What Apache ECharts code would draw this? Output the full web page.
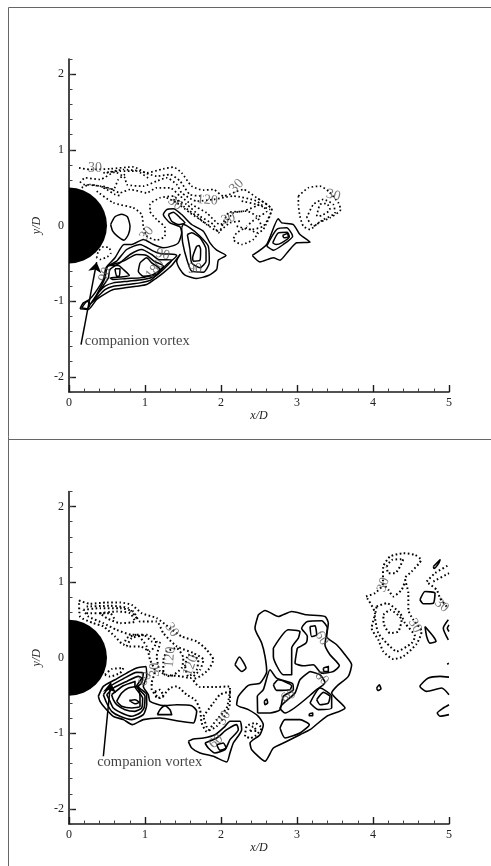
<!DOCTYPE html>
<html><head><meta charset="utf-8">
<style>html,body{margin:0;padding:0;background:#fff}#c{width:491px;height:866px}</style>
<script src="https://cdn.jsdelivr.net/npm/echarts@6/dist/echarts.min.js"></script>
</head><body><div id="c"></div>
<script>
const xTicks=[0,1,2,3,4,5];
const yTicks=[-2,-1,0,1,2];
const cylinderRadius=0.5;
// upper panel: solid contours (closed)
const topSolid=[
[[.548,.013],[.605,.115],[.693,.15],[.768,.115],[.803,-.009],[.781,-.119],[.724,-.194],[.636,-.141],[.575,-.075]],
[[.145,-1.101],[.189,-1.022],[.268,-.978],[.342,-.89],[.452,-.714],[.487,-.559],[.605,-.427],[.724,-.251],[.825,-.251],[.978,-.185],[1.11,-.251],[1.241,-.295],[1.351,-.273],[1.439,-.229],[1.482,-.097],[1.461,-.018],[1.329,.035],[1.241,.145],[1.285,.211],[1.373,.22],[1.482,.145],[1.614,.013],[1.768,-.075],[1.855,-.229],[1.943,-.326],[2.066,-.396],[1.965,-.458],[1.943,-.581],[1.833,-.661],[1.68,-.7],[1.526,-.656],[1.461,-.581],[1.417,-.471],[1.461,-.383],[1.351,-.529],[1.241,-.626],[1.154,-.692],[1.022,-.78],[.89,-.802],[.737,-.824],[.583,-.846],[.496,-.89],[.364,-.978],[.254,-1.11]],
[[1.307,.145],[1.373,.176],[1.461,.101],[1.526,.035],[1.439,.013],[1.351,.057]],
[[1.482,-.031],[1.496,-.229],[1.557,-.47],[1.614,-.604],[1.768,-.617],[1.846,-.493],[1.833,-.273],[1.724,-.141],[1.592,-.031],[1.504,.013]],
[[1.557,-.119],[1.592,-.317],[1.614,-.493],[1.724,-.559],[1.803,-.471],[1.803,-.317],[1.724,-.163],[1.614,-.097]],
[[1.68,-.273],[1.627,-.427],[1.636,-.471],[1.724,-.458],[1.732,-.317],[1.711,-.264]],
[[.276,-1.044],[.364,-.912],[.474,-.692],[.504,-.546],[.627,-.471],[.759,-.317],[.934,-.251],[1.11,-.339],[1.197,-.37],[1.395,-.383],[1.417,-.396],[1.285,-.515],[1.197,-.604],[1.088,-.714],[.934,-.758],[.759,-.78],[.583,-.802],[.474,-.846],[.364,-.956]],
[[.32,-1],[.43,-.824],[.518,-.692],[.539,-.581],[.671,-.493],[.803,-.383],[.956,-.317],[1.088,-.383],[1.175,-.449],[1.351,-.458],[1.241,-.581],[1.132,-.67],[.978,-.714],[.781,-.736],[.583,-.758],[.474,-.802],[.386,-.89]],
[[.518,-.529],[.715,-.471],[.89,-.383],[1.022,-.396],[1.118,-.471],[1.241,-.537],[1.11,-.648],[.934,-.692],[.759,-.7],[.583,-.714],[.539,-.692],[.715,-.678],[.794,-.661],[.715,-.581],[.649,-.529]],
[[.934,-.493],[1.022,-.427],[1.088,-.493],[1.154,-.537],[1.197,-.581],[1.154,-.648],[.978,-.67],[.912,-.604]],
[[.605,-.573],[.671,-.573],[.662,-.67],[.627,-.67]],
[[.167,-1.088],[.241,-1.0],[.276,-1.044],[.241,-1.101]],
[[2.412,-.396],[2.601,-.251],[2.754,.088],[2.798,.035],[2.952,.013],[3.039,-.119],[3.171,-.22],[2.996,-.229],[2.886,-.339],[2.776,-.458],[2.689,-.427],[2.513,-.481]],
[[2.601,-.273],[2.732,-.053],[2.864,-.031],[2.943,-.141],[2.82,-.251],[2.689,-.326]],
[[2.68,-.229],[2.754,-.097],[2.873,-.088],[2.899,-.15],[2.798,-.229],[2.724,-.251]],
[[2.811,-.132],[2.873,-.106],[2.886,-.15],[2.829,-.163]]
];
// upper panel: dotted contours, closed
const topDottedClosed=[
[[.364,-.427],[.386,-.339],[.452,-.282],[.531,-.295],[.548,-.37],[.504,-.414],[.408,-.449]],
[[3.018,.388],[3.149,.498],[3.303,.52],[3.412,.454],[3.544,.3],[3.575,.211],[3.434,.101],[3.281,.035],[3.171,-.053],[3.083,-.009],[3.039,.123],[3.018,.278]],
[[3.127,.101],[3.215,.278],[3.346,.344],[3.478,.278],[3.5,.167],[3.346,.079],[3.215,-.009]],
[[3.259,.123],[3.303,.278],[3.39,.291],[3.434,.211],[3.325,.132]]
];
// upper panel: dotted contours, open
const topDottedOpen=[
[[.132,.762],[.276,.74],[.539,.749],[.846,.775],[1.022,.696],[1.241,.749],[1.373,.771],[1.482,.696],[1.614,.52],[1.768,.467],[1.899,.476],[2.031,.388],[2.294,.476],[2.469,.366],[2.667,.211],[2.557,-.053],[2.469,-.097],[2.338,-.031],[2.206,-.097],[2.162,-.185],[2.272,-.251],[2.425,-.185],[2.491,-.097]],
[[.145,.564],[.211,.63],[.408,.608],[.605,.705],[.737,.63],[.759,.542],[.978,.52],[1.154,.586],[1.285,.63],[1.417,.542],[1.482,.432],[1.68,.322],[1.899,.344],[2.162,.388],[2.469,.322],[2.601,.189],[2.469,.101],[2.338,-.009]],
[[.167,.498],[.276,.542],[.539,.485],[.671,.432],[.803,.476],[1.022,.432],[1.154,.498],[1.329,.498],[1.461,.388],[1.614,.278],[1.811,.167],[1.987,.013],[2.075,.057],[2.162,.167],[2.338,.189],[2.469,.123],[2.535,-.009]],
[[.364,.454],[.583,.3],[.846,.233],[.956,.145],[.978,-.009],[1.022,-.141],[1.154,-.194],[1.263,-.141],[1.263,-.031],[1.154,.079],[1.066,.189],[1.066,.278],[1.197,.366],[1.373,.388],[1.504,.256],[1.68,.123],[1.811,.013],[1.965,-.075],[2.118,.035],[2.25,.057]],
[[1.285,.366],[1.417,.3],[1.592,.167],[1.724,.079],[1.855,-.009]],
[[.452,.52],[.583,.476],[.649,.608],[.737,.675]],
[[.496,.696],[.715,.74],[.934,.718],[1.154,.652],[1.329,.674],[1.461,.586],[1.592,.41],[1.768,.388]],
[[1.373,.344],[1.548,.278],[1.724,.123],[1.899,.013],[1.965,-.097],[2.096,.167],[2.294,.189],[2.513,.278]],
[[2.206,-.009],[2.382,-.053],[2.557,-.009],[2.667,.211],[2.469,.366]],
[[2.272,.322],[2.469,.278],[2.645,.211]],
[[.452,.696],[.671,.718],[.89,.718],[1.066,.608]],
[[.189,.542],[.408,.52],[.496,.476],[.605,.41],[.693,.388]]
];
// lower panel: solid contours, closed
const lowSolid=[
[[.386,-.511],[.452,-.379],[.605,-.291],[.759,-.203],[.89,-.137],[1.013,-.115],[1.022,-.247],[.978,-.379],[1.044,-.489],[1.066,-.577],[1.241,-.634],[1.417,-.621],[1.614,-.634],[1.68,-.709],[1.636,-.863],[1.461,-.841],[1.197,-.797],[.978,-.819],[.833,-.885],[.715,-.819],[.583,-.775],[.474,-.665],[.408,-.577]],
[[.452,-.489],[.539,-.379],[.715,-.278],[.89,-.194],[.978,-.203],[.956,-.335],[.912,-.379],[1.022,-.489],[1.022,-.621],[.978,-.753],[.825,-.819],[.671,-.775],[.561,-.709],[.496,-.599]],
[[.496,-.489],[.583,-.401],[.759,-.313],[.912,-.247],[.956,-.269],[.89,-.379],[1,-.511],[.987,-.665],[.934,-.731],[.825,-.775],[.693,-.731],[.583,-.665],[.539,-.577]],
[[.561,-.489],[.715,-.37],[.868,-.313],[.868,-.379],[.969,-.533],[.956,-.665],[.868,-.709],[.737,-.687],[.627,-.621],[.583,-.555]],
[[.627,-.577],[.693,-.467],[.781,-.401],[.899,-.379],[.934,-.511],[.934,-.643],[.825,-.665],[.693,-.643]],
[[.794,-.564],[.868,-.555],[.925,-.59],[.868,-.608]],
[[1.162,-.753],[1.197,-.687],[1.263,-.634],[1.329,-.687],[1.351,-.753]],
[[1.57,-1.106],[1.636,-1.075],[1.768,-1.062],[1.921,-1.018],[2.053,-.907],[2.118,-.841],[2.25,-.841],[2.272,-.952],[2.162,-1.128],[2.118,-1.26],[2.075,-1.379],[1.899,-1.304],[1.724,-1.26],[1.614,-1.194]],
[[1.789,-1.128],[1.943,-1.062],[2.075,-.952],[2.206,-.885],[2.228,-.952],[2.118,-1.084],[2.053,-1.216],[1.921,-1.26],[1.833,-1.194]],
[[1.943,-1.15],[2.031,-1.128],[2.066,-1.194],[1.987,-1.225]],
[[2.491,.568],[2.579,.626],[2.754,.546],[2.93,.612],[3.127,.568],[3.368,.546],[3.412,.458],[3.39,.282],[3.522,.172],[3.632,.04],[3.719,-.093],[3.675,-.247],[3.522,-.379],[3.456,-.467],[3.632,-.665],[3.39,-.775],[3.171,-.952],[3.039,-1.018],[2.842,-1.119],[2.689,-1.194],[2.579,-1.37],[2.404,-1.216],[2.382,-1.128],[2.513,-1.018],[2.557,-.885],[2.491,-.775],[2.36,-.687],[2.206,-.621],[2.228,-.511],[2.36,-.366],[2.513,-.335],[2.601,-.181],[2.579,.018],[2.535,.194],[2.447,.392]],
[[2.689,.128],[2.886,.37],[3.039,.348],[3.018,.26],[2.93,.128],[2.93,-.225],[2.82,-.225],[2.689,.018]],
[[3.004,.128],[3.118,.194],[3.136,.282],[3.061,.392],[3.136,.48],[3.325,.489],[3.399,.392],[3.368,.172],[3.434,.04],[3.557,-.106],[3.478,-.181],[3.325,-.203],[3.215,-.093],[3.083,-.106],[2.974,-.07]],
[[3.171,-.181],[3.039,-.291],[2.974,-.467],[2.776,-.665],[2.842,-.731],[3.259,-.423],[3.368,-.326],[3.303,-.225]],
[[2.482,-.731],[2.478,-.511],[2.557,-.423],[2.645,-.159],[2.732,-.269],[2.943,-.344],[2.952,-.423],[2.82,-.511],[2.776,-.687],[2.645,-.731]],
[[2.689,-.357],[2.754,-.291],[2.93,-.37],[2.908,-.423],[2.732,-.432]],
[[2.57,-.577],[2.601,-.546],[2.614,-.599],[2.579,-.621]],
[[3.171,.414],[3.237,.423],[3.259,.304],[3.193,.282]],
[[3.346,-.137],[3.412,-.115],[3.412,-.181],[3.355,-.181]],
[[3.171,-.599],[3.303,-.401],[3.456,-.511],[3.456,-.665],[3.281,-.687]],
[[3.259,-.555],[3.346,-.458],[3.434,-.511],[3.412,-.599],[3.303,-.621]],
[[3.162,-.74],[3.206,-.731],[3.206,-.767],[3.162,-.767]],
[[2.776,-.93],[2.842,-.819],[3.039,-.819],[3.162,-.885],[3.039,-.996],[2.842,-1.062]],
[[2.184,-.093],[2.241,.009],[2.329,-.137],[2.272,-.181]],
[[4.048,-.401],[4.083,-.357],[4.105,-.414],[4.061,-.432]],
[[4.684,.414],[4.794,.282],[4.829,.216],[4.75,.194],[4.706,.282]],
[[4.618,.767],[4.684,.877],[4.816,.855],[4.794,.722],[4.662,.714]],
[[4.794,1.207],[4.882,1.295],[4.86,1.242],[4.803,1.181]]
];
// lower panel: solid contours, open (they run off the right edge) and dots
const lowSolidOpen=[
[[5,-.256],[4.882,-.247],[4.728,-.269],[4.618,-.379],[4.706,-.445],[4.904,-.401],[5,-.489]],
[[5,-.621],[4.925,-.665],[4.846,-.731],[4.882,-.775],[5,-.753]],
[[4.991,.502],[4.925,.392],[4.991,.238]],
[[5,.436],[4.978,.392],[5,.348]],
[[4.254,-.308],[4.262,-.312]],
[[3.118,-.392],[3.126,-.396]],
[[3.031,.048],[3.039,.044]]
];
// lower panel: dotted contours, closed
const lowDottedClosed=[
[[.132,.758],[.276,.714],[.496,.731],[.671,.731],[.825,.7],[.956,.59],[1.154,.524],[1.329,.392],[1.482,.282],[1.68,.216],[1.811,.106],[1.899,-.026],[1.833,-.159],[1.724,-.247],[1.636,-.291],[1.724,-.388],[1.899,-.388],[2.118,-.379],[2.118,-.599],[2.075,-.731],[1.943,-.907],[1.811,-.974],[1.746,-.863],[1.724,-.687],[1.658,-.555],[1.548,-.489],[1.417,-.379],[1.329,-.401],[1.197,-.533],[1.088,-.423],[1.088,-.335],[1.132,-.181],[1.066,-.026],[1.022,.15],[.89,.304],[.759,.26],[.715,.172],[.605,.282],[.452,.414],[.32,.458],[.145,.546]],
[[.189,.634],[.408,.656],[.671,.656],[.846,.612],[.934,.48],[1.154,.48],[1.241,.326],[1.417,.15],[1.636,.062],[1.768,-.026],[1.724,-.159],[1.592,-.269],[1.482,-.247],[1.285,-.225],[1.197,-.181],[1.154,.018],[1.197,.194],[1.088,.216],[.978,.304],[.825,.304],[.627,.37],[.452,.458],[.254,.546]],
[[.408,.59],[.627,.612],[.803,.59],[.868,.48],[.671,.458],[.496,.524]],
[[.759,.15],[.825,.26],[1.022,.304],[1.154,.216],[1.066,.084],[.934,.15]],
[[1.241,-.026],[1.285,.084],[1.417,.128],[1.504,-.004],[1.482,-.137],[1.329,-.247],[1.241,-.203]],
[[1.526,-.115],[1.57,.04],[1.702,-.026],[1.68,-.159],[1.57,-.247]],
[[1.768,-.775],[1.899,-.599],[1.987,-.489],[2.118,-.445],[2.075,-.665],[1.943,-.819],[1.833,-.952]],
[[1.132,-.445],[1.197,-.423],[1.241,-.511],[1.154,-.533]],
[[.474,-.225],[.561,-.15],[.715,-.137],[.671,-.203],[.539,-.247]],
[[3.908,.811],[4.026,.855],[4.127,.965],[4.136,1.207],[4.224,1.339],[4.399,1.383],[4.553,1.361],[4.632,1.295],[4.509,1.141],[4.421,1.053],[4.465,.855],[4.465,.634],[4.531,.502],[4.64,.348],[4.575,.185],[4.399,.018],[4.268,-.018],[4.136,.084],[4.07,.238],[3.982,.392],[4.026,.59]],
[[4.18,1.207],[4.246,1.295],[4.399,1.304],[4.355,1.207],[4.289,1.119],[4.202,1.119]],
[[4.048,.678],[4.18,.722],[4.355,.59],[4.421,.458],[4.553,.282],[4.509,.194],[4.311,.084],[4.18,.194],[4.07,.326],[4.026,.546]],
[[4.136,.568],[4.224,.634],[4.377,.502],[4.333,.348],[4.224,.326],[4.145,.436]],
[[2.316,-1.04],[2.338,-.907],[2.447,-.863],[2.535,-.93],[2.447,-1.04],[2.382,-1.062]],
[[2.382,-.97],[2.425,-.907],[2.469,-.97]]
];
// lower panel: dotted contours, open
const lowDottedOpen=[
[[4.127,.987],[4.202,.899],[4.268,.811],[4.377,.899],[4.421,1.009]],
[[4.706,1.009],[4.816,1.119],[5,1.229]],
[[4.728,.987],[4.838,.899],[4.882,.789],[4.969,.678]],
[[4.794,1.009],[5,1.119]],
[[4.982,-.07],[5,-.106]],
[[.232,.678],[.539,.687],[.781,.656],[.89,.524]],
[[.232,.59],[.539,.59],[.605,.502]]
];
// contour labels: x, y, text, rotation
const topLabels=[[.342,.749,'30',0],[1.022,-.106,'30',50],[1.232,-.383,'90',-15],[1.13,-.58,'180',50],[.474,-.648,'90',70],[1.658,-.573,'90',0],[1.82,.335,'120',-5],[2.206,.52,'30',45],[2.096,.088,'30',20],[3.478,.401,'30',-15],[1.395,.291,'30',-40]];
const lowLabels=[[1.351,.37,'30',-55],[1.329,.009,'120',85],[1.601,-.101,'120',70],[1,-.282,'60',60],[1.132,-.159,'30',90],[2.039,-.797,'30',60],[1.934,-1.106,'60',40],[3.325,.26,'60',-60],[3.325,-.269,'60',-45],[2.886,-.511,'60',30],[4.136,.965,'30',70],[4.553,.423,'30',-60],[4.904,.692,'30',-40]];
// annotations: [tail, tip, text anchor]
const topArrow=[[.158,-1.573],[.364,-.485],[.2,-1.53]];
const lowArrow=[[.452,-1.304],[.548,-.326],[.364,-1.379]];
const annotationText='companion vortex';

const serif='"Liberation Serif"';
const ink='#1a1a1a';
const close=a=>a.concat([a[0]]);
function lineSeries(pts,panel,dotted,w){
  return {type:'line',xAxisIndex:panel,yAxisIndex:panel*2,data:pts,showSymbol:false,symbol:'none',smooth:0.2,silent:true,clip:true,z:3,
    lineStyle:{color:'#000',width:w,type:dotted?[1.6,2.5]:'solid',join:'round'}};
}
function labelSeries(list,panel){
  return {type:'scatter',xAxisIndex:panel,yAxisIndex:panel*2,symbolSize:1,itemStyle:{color:'rgba(0,0,0,0)'},silent:true,z:6,
    data:list.map(l=>({value:[l[0],l[1]],label:{show:true,position:'inside',formatter:l[2],rotate:l[3],color:'#555',fontFamily:serif,fontSize:14}}))};
}
function arrowSeries(a,panel){
  return [{type:'lines',coordinateSystem:'cartesian2d',xAxisIndex:panel,yAxisIndex:panel*2,silent:true,z:5,
    symbol:['none','arrow'],symbolSize:10,
    lineStyle:{color:'#000',width:1.5,opacity:1,type:'solid'},
    data:[{coords:[a[0],a[1]]}]},
   {type:'scatter',xAxisIndex:panel,yAxisIndex:panel*2,symbolSize:1,itemStyle:{color:'rgba(0,0,0,0)'},silent:true,z:6,
    data:[{value:a[2],label:{show:true,position:'right',distance:0,formatter:annotationText,color:'#111',fontFamily:serif,fontSize:14.5}}]}];
}
function cylinder(panel){
  return {type:'custom',xAxisIndex:panel,yAxisIndex:panel*2,data:[[0,0]],silent:true,z:2,clip:true,
    renderItem:(p,api)=>{
      const c=api.coord([api.value(0),api.value(1)]);
      return {type:'sector',shape:{cx:c[0],cy:c[1],r0:0,r:api.size([cylinderRadius,0])[0],startAngle:-Math.PI/2,endAngle:Math.PI/2},style:{fill:'#000'}};
    }};
}
const xAxis=g=>({type:'value',gridIndex:g,min:0,max:5,interval:1,
  axisLine:{onZero:false,lineStyle:{color:ink,width:1.6}},
  axisTick:{inside:true,length:7,lineStyle:{color:ink,width:1.4}},
  minorTick:{show:true,splitNumber:5,length:3.5,lineStyle:{color:'#444',width:1}},
  splitLine:{show:false},minorSplitLine:{show:false},
  axisLabel:{margin:5,color:'#222',fontFamily:serif,fontSize:12,showMinLabel:true,showMaxLabel:true,formatter:v=>xTicks.includes(v)?String(v):''},
  name:'x/D',nameLocation:'middle',nameGap:17,nameTextStyle:{fontFamily:serif,fontStyle:'italic',fontSize:12,color:'#222'}});
const yMajor=g=>({type:'value',gridIndex:g,min:-2.2,max:2.2,interval:0.2,position:'left',
  axisLine:{onZero:false,lineStyle:{color:ink,width:1.6}},
  axisTick:{inside:true,length:7,customValues:yTicks,lineStyle:{color:ink,width:1.4}},
  splitLine:{show:false},
  axisLabel:{customValues:yTicks,margin:5,color:'#222',fontFamily:serif,fontSize:12},
  name:'y/D',nameLocation:'middle',nameGap:26,nameTextStyle:{fontFamily:serif,fontStyle:'italic',fontSize:12,color:'#222'}});
const yMinor=g=>({type:'value',gridIndex:g,min:-2.2,max:2.2,interval:0.2,position:'left',
  axisLine:{show:false,onZero:false},
  axisTick:{inside:true,length:3.5,lineStyle:{color:'#444',width:1}},
  splitLine:{show:false},axisLabel:{show:false}});
const series=[cylinder(0),cylinder(1)];
topSolid.forEach(p=>series.push(lineSeries(close(p),0,false,1.5)));
topDottedClosed.forEach(p=>series.push(lineSeries(close(p),0,true,1.7)));
topDottedOpen.forEach(p=>series.push(lineSeries(p,0,true,1.7)));
lowSolid.forEach(p=>series.push(lineSeries(close(p),1,false,1.6)));
lowSolidOpen.forEach(p=>series.push(lineSeries(p,1,false,1.6)));
lowDottedClosed.forEach(p=>series.push(lineSeries(close(p),1,true,2)));
lowDottedOpen.forEach(p=>series.push(lineSeries(p,1,true,2)));
series.push(labelSeries(topLabels,0),labelSeries(lowLabels,1),...arrowSeries(topArrow,0),...arrowSeries(lowArrow,1));
const frame=(x1,y1,x2,y2)=>({type:'line',silent:true,shape:{x1,y1,x2,y2},style:{stroke:'#666',lineWidth:1}});
echarts.init(document.getElementById('c'),null,{renderer:'canvas'}).setOption({
  animation:false,backgroundColor:'#fff',
  graphic:[frame(8.5,7.5,491,7.5),frame(8.5,7.5,8.5,866),frame(8.5,439.5,491,439.5)],
  grid:[{left:69,width:380,top:59,height:333},{left:69,width:380,top:491.5,height:332.5}],
  xAxis:[xAxis(0),xAxis(1)],
  yAxis:[yMajor(0),yMinor(0),yMajor(1),yMinor(1)],
  series
});
</script></body></html>
